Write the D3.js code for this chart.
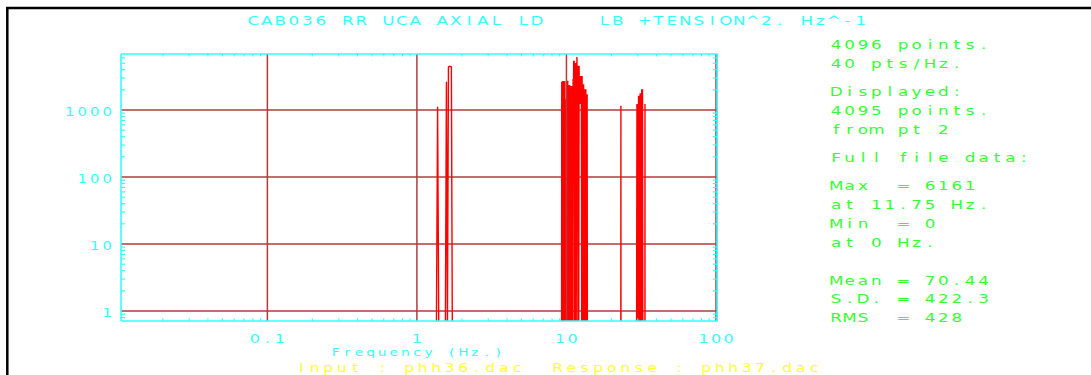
<!DOCTYPE html>
<html><head><meta charset="utf-8">
<script src="https://cdn.jsdelivr.net/npm/d3@7"></script>
<style>
html,body{margin:0;padding:0;background:#fff;}
svg{display:block;}
</style></head><body>
<svg id="chart" width="1091" height="375"></svg>
<script>
// ---- Spectrum (40 pts/Hz); zero bins fall below the log axis ----
const freqHz = [
  1.35, 1.375, 1.4,
  1.55, 1.575, 1.6, 1.625, 1.65, 1.675, 1.7, 1.725,
  9.275, 9.3, 9.375, 9.45, 9.525, 9.6, 9.675, 9.75, 9.8, 9.85, 9.9, 9.95, 10.0,
  10.05, 10.125, 10.2, 10.275, 10.35, 10.425, 10.5, 10.575, 10.65, 10.725, 10.8,
  10.875, 10.95, 11.025, 11.075, 11.125, 11.175, 11.225, 11.275, 11.325, 11.4,
  11.475, 11.55, 11.625, 11.675, 11.75, 11.825, 11.875, 11.925, 12.0, 12.075,
  12.15, 12.2, 12.275, 12.35, 12.425, 12.5, 12.575, 12.65, 12.725, 12.8, 12.875,
  12.95, 13.025, 13.1, 13.175, 13.25, 13.325, 13.4, 13.475, 13.55, 13.625, 13.7,
  13.75, 13.8,
  23.1, 23.125, 23.15,
  29.45, 29.6, 29.8, 30.0, 30.2, 30.35, 30.55, 30.75, 30.95, 31.1, 31.3, 31.5,
  31.7, 31.85, 32.05, 32.25, 32.4,
  33.475, 33.5, 33.525
];
const power = [
  0, 1120, 0,
  0, 2640, 0, 4430, 4470, 4450, 4430, 0,
  0, 2650, 0, 2700, 0, 2720, 0, 2680, 0, 1445, 0, 1445, 0,
  2740, 0, 2740, 0, 2360, 0, 2360, 0, 2290, 0, 2290,
  0, 2290, 0, 2900, 1230, 5445, 1230, 5445, 0, 5025,
  0, 5025, 0, 1230, 6161, 1230, 4585, 0, 4585, 0,
  4585, 1230, 3215, 1230, 3215, 1230, 3215, 0, 3215, 0, 2420,
  0, 2420, 0, 2037, 0, 2037, 0, 2037, 0, 1715, 0,
  1715, 0,
  0, 1160, 0,
  0, 1230, 0, 1230, 0, 1635, 0, 1635, 0, 1775, 0, 1775,
  0, 2037, 0, 2037, 0,
  0, 1230, 0
];

// ---- Axes ----
const xGridValues = [0.1, 1, 10, 100];
const xTickLabels = ["0.1", "1", "10", "100"];
const yGridValues = [1, 10, 100, 1000];
const yTickLabels = ["1", "10", "100", "1000"];

// ---- Texts ----
const titleText = "CAB036 RR UCA AXIAL LD    LB +TENSION^2. Hz^-1";
const xAxisTitle = "Frequency (Hz.)";
const footerText = "Input : phh36.dac  Response : phh37.dac";
const statsLines = [
  "4096 points.", "40 pts/Hz.",
  "Displayed:", "4095 points.", "from pt 2",
  "Full file data:",
  "Max  = 6161", "at 11.75 Hz.", "Min  = 0", "at 0 Hz.",
  "Mean = 70.44", "S.D. = 422.3", "RMS  = 428"
];

// ---- Drawing ----
const CYAN = "#33ffff", GREEN = "#33ff33", YELLOW = "#ffff33";
const GRID = "#b23c3c", TRACE = "#ff0000";
const FONT = "'DejaVu Sans', sans-serif";

const svg = d3.select("#chart");
const plot = {left: 121, right: 716, top: 54, bottom: 321};

const x = d3.scaleLog().domain([0.0105, 100]).range([plot.left, plot.right]);
const y = d3.scaleLog().domain([0.71, 6850]).range([plot.bottom, plot.top]);

// fixed-pitch terminal style text, one glyph per cell
function cellText(parent, str, o) {
  const n = str.length;
  let x0 = o.x;
  if (o.anchor === "end") x0 = o.x - n * o.pitch;
  else if (o.anchor === "middle") x0 = o.x - n * o.pitch / 2;
  const t = parent.append("text")
    .attr("transform", `scale(${o.sx},1)`)
    .attr("font-family", FONT)
    .attr("font-size", o.size)
    .attr("fill", o.fill)
    .attr("text-anchor", "middle");
  Array.from(str).forEach((ch, i) => {
    if (ch === " ") return;
    t.append("tspan")
      .attr("x", (x0 + o.pitch * (i + 0.5)) / o.sx)
      .attr("y", o.y)
      .text(ch);
  });
}

// outer black frame
svg.append("line").attr("x1", 6).attr("x2", 1091).attr("y1", 8).attr("y2", 8)
  .attr("stroke", "#000").attr("stroke-width", 2.5);
svg.append("line").attr("x1", 7.3).attr("x2", 7.3).attr("y1", 7).attr("y2", 375)
  .attr("stroke", "#000").attr("stroke-width", 2.5);

// horizontal grid
svg.append("g").selectAll("line").data(yGridValues).join("line")
  .attr("x1", plot.left).attr("x2", plot.right + 1)
  .attr("y1", d => y(d)).attr("y2", d => y(d))
  .attr("stroke", GRID).attr("stroke-width", 1.5);

// spectrum trace
svg.append("clipPath").attr("id", "plotClip")
  .append("rect").attr("x", plot.left).attr("y", plot.top)
  .attr("width", plot.right - plot.left).attr("height", plot.bottom - plot.top);

const yFloor = plot.bottom + 8;
const trace = d3.line()
  .x(i => x(freqHz[i]))
  .y(i => power[i] > 0 ? y(power[i]) : yFloor);

svg.append("path")
  .attr("clip-path", "url(#plotClip)")
  .attr("d", trace(d3.range(freqHz.length)))
  .attr("fill", "none")
  .attr("stroke", TRACE)
  .attr("stroke-width", 1.4)
  .attr("stroke-linejoin", "bevel");

// vertical grid
svg.append("g").selectAll("line").data(xGridValues).join("line")
  .attr("x1", d => x(d)).attr("x2", d => x(d))
  .attr("y1", plot.top).attr("y2", plot.bottom)
  .attr("stroke", GRID).attr("stroke-width", 1.5);

// frame
const frame = svg.append("g").attr("stroke", CYAN).attr("stroke-width", 1.6);
frame.append("line").attr("x1", plot.left).attr("x2", plot.left).attr("y1", plot.top).attr("y2", plot.bottom);
frame.append("line").attr("x1", plot.right + 1.2).attr("x2", plot.right + 1.2).attr("y1", plot.top).attr("y2", plot.bottom);
frame.append("line").attr("x1", plot.left).attr("x2", plot.right + 2).attr("y1", plot.top).attr("y2", plot.top);
frame.append("line").attr("x1", plot.left).attr("x2", plot.right + 2).attr("y1", plot.bottom).attr("y2", plot.bottom);

// minor ticks
const isDecade = v => Math.abs(Math.log10(v) - Math.round(Math.log10(v))) < 1e-9;
const xMinor = x.ticks().filter(v => !isDecade(v));
const yMinor = y.ticks().filter(v => !isDecade(v));
const ticks = svg.append("g").attr("stroke", CYAN).attr("stroke-width", 1.2);
ticks.selectAll(".tt").data(xMinor).join("line")
  .attr("x1", d => x(d)).attr("x2", d => x(d)).attr("y1", plot.top).attr("y2", plot.top + 2.5);
ticks.selectAll(".tb").data(xMinor).join("line")
  .attr("x1", d => x(d)).attr("x2", d => x(d)).attr("y1", plot.bottom).attr("y2", plot.bottom - 2.5);
ticks.selectAll(".tl").data(yMinor).join("line")
  .attr("x1", plot.left).attr("x2", plot.left + 4).attr("y1", d => y(d)).attr("y2", d => y(d));
ticks.selectAll(".tr").data(yMinor).join("line")
  .attr("x1", plot.right + 1.2).attr("x2", plot.right - 3).attr("y1", d => y(d)).attr("y2", d => y(d));

// tick labels
xGridValues.forEach((v, i) => cellText(svg, xTickLabels[i],
  {x: x(v), y: 342.7, pitch: 12.5, size: 12.3, sx: 1.3, anchor: "middle", fill: CYAN}));
yGridValues.forEach((v, i) => cellText(svg, yTickLabels[i],
  {x: 113.5, y: y(v) + 5.8, pitch: 12.5, size: 11.4, sx: 1.3, anchor: "end", fill: CYAN}));

// titles
cellText(svg, titleText, {x: 246.6, y: 25, pitch: 13.5, size: 12.9, sx: 1.3, anchor: "start", fill: CYAN});
cellText(svg, xAxisTitle, {x: 417, y: 356, pitch: 11.6, size: 10.6, sx: 1.3, anchor: "middle", fill: CYAN});
cellText(svg, footerText, {x: 294.5, y: 371.6, pitch: 13.5, size: 12, sx: 1.3, anchor: "start", fill: YELLOW});

// file statistics panel
const statRowSlot = [0, 1, 2.5, 3.5, 4.5, 6, 7.5, 8.5, 9.5, 10.5, 12.5, 13.5, 14.5];
statsLines.forEach((s, i) => cellText(svg, s,
  {x: 829.5, y: 49 + statRowSlot[i] * 18.85, pitch: 13.4, size: 12.9, sx: 1.3, anchor: "start", fill: GREEN}));
</script>
</body></html>
